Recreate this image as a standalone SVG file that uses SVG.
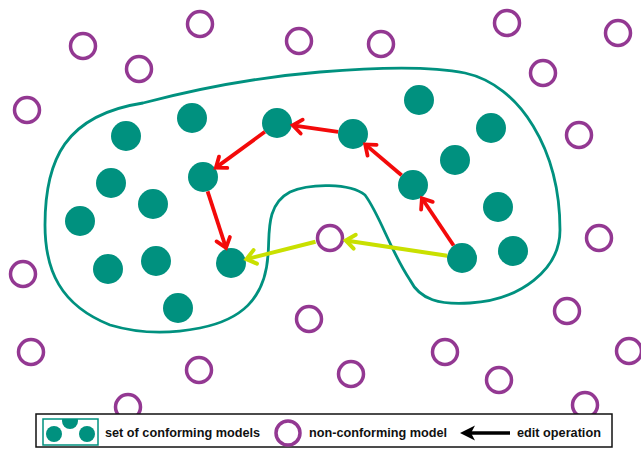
<svg xmlns="http://www.w3.org/2000/svg" width="641" height="452" viewBox="0 0 641 452">
<style>
.c{fill:#00917f}
.n{fill:none;stroke:#933892;stroke-width:3.5}
.red{stroke:#f30a0a;stroke-width:3.8;fill:none;marker-end:url(#ar)}
.grn{stroke:#c9e000;stroke-width:4;fill:none;marker-end:url(#ag)}
.t{font-family:"Liberation Sans",Arial,sans-serif;font-weight:bold;font-size:12.7px;fill:#111}
</style>
<defs>
<marker id="ar" markerUnits="userSpaceOnUse" viewBox="-12 -9 14 18" refX="0" refY="0" markerWidth="14" markerHeight="18" orient="auto" overflow="visible">
<path d="M-9,-7 L0,0 L-9,7" fill="none" stroke="#f30a0a" stroke-width="3.8" stroke-linecap="round" stroke-linejoin="miter"/>
</marker>
<marker id="ag" markerUnits="userSpaceOnUse" viewBox="-12 -9 14 18" refX="0" refY="0" markerWidth="14" markerHeight="18" orient="auto" overflow="visible">
<path d="M-9,-7 L0,0 L-9,7" fill="none" stroke="#c9e000" stroke-width="4" stroke-linecap="round" stroke-linejoin="miter"/>
</marker>
<clipPath id="lc"><rect x="43" y="419" width="55" height="26"/></clipPath>
</defs>
<rect width="641" height="452" fill="#fff"/>
<g id="conforming-set">
<path d="M320,72 C380,67 430,66 465,73 C520,85 560,150 560,230 C560,270 520,300 470,303 C440,305 420,300 410,280 C390,250 380,215 365,195 C350,183 310,183 290,192 C265,205 270,235 268,255 C265,300 240,320 200,328 C170,334 140,334 110,325 C60,305 45,270 45,225 C45,160 65,115 143,103 C200,88 260,77 320,72 Z" fill="none" stroke="#00917f" stroke-width="2.8"/>
</g>
<g id="conforming-models">
<circle id="m1" class="c" cx="126" cy="136" r="15"/>
<circle id="m2" class="c" cx="192" cy="118" r="15"/>
<circle id="m3" class="c" cx="277" cy="123" r="15"/>
<circle id="m4" class="c" cx="353" cy="134" r="15"/>
<circle id="m5" class="c" cx="419" cy="100" r="15"/>
<circle id="m6" class="c" cx="491" cy="128" r="15"/>
<circle id="m7" class="c" cx="455" cy="160" r="15"/>
<circle id="m8" class="c" cx="413" cy="185" r="15"/>
<circle id="m9" class="c" cx="498" cy="207" r="15"/>
<circle id="m10" class="c" cx="462" cy="258" r="15"/>
<circle id="m11" class="c" cx="513" cy="251" r="15"/>
<circle id="m12" class="c" cx="111" cy="183" r="15"/>
<circle id="m13" class="c" cx="153" cy="204" r="15"/>
<circle id="m14" class="c" cx="203" cy="177" r="15"/>
<circle id="m15" class="c" cx="80" cy="221" r="15"/>
<circle id="m16" class="c" cx="108" cy="269" r="15"/>
<circle id="m17" class="c" cx="156" cy="261" r="15"/>
<circle id="m18" class="c" cx="231" cy="263" r="15"/>
<circle id="m19" class="c" cx="178" cy="308" r="15"/>
</g>
<g id="non-conforming-models">
<circle id="x1" class="n" cx="83" cy="46" r="12.5"/>
<circle id="x2" class="n" cx="139" cy="69" r="12.5"/>
<circle id="x3" class="n" cx="200" cy="24" r="12.5"/>
<circle id="x4" class="n" cx="299" cy="41" r="12.5"/>
<circle id="x5" class="n" cx="27" cy="110" r="12.5"/>
<circle id="x6" class="n" cx="381" cy="44" r="12.5"/>
<circle id="x7" class="n" cx="507" cy="23" r="12.5"/>
<circle id="x8" class="n" cx="618" cy="33" r="12.5"/>
<circle id="x9" class="n" cx="543" cy="73" r="12.5"/>
<circle id="x10" class="n" cx="579" cy="135" r="12.5"/>
<circle id="x11" class="n" cx="330" cy="238" r="12.5"/>
<circle id="x12" class="n" cx="599" cy="238" r="12.5"/>
<circle id="x13" class="n" cx="23" cy="274" r="12.5"/>
<circle id="x14" class="n" cx="31" cy="352" r="12.5"/>
<circle id="x15" class="n" cx="199" cy="370" r="12.5"/>
<circle id="x16" class="n" cx="128" cy="407" r="12.5"/>
<circle id="x17" class="n" cx="309" cy="319" r="12.5"/>
<circle id="x18" class="n" cx="567" cy="311" r="12.5"/>
<circle id="x19" class="n" cx="445" cy="352" r="12.5"/>
<circle id="x20" class="n" cx="351" cy="374" r="12.5"/>
<circle id="x21" class="n" cx="499" cy="380" r="12.5"/>
<circle id="x22" class="n" cx="629" cy="351" r="12.5"/>
<circle id="x23" class="n" cx="585" cy="405" r="12.5"/>
</g>
<g id="connectors">
<line class="red" x1="453.6" y1="245.5" x2="421.9" y2="198.3"/>
<line class="red" x1="401.6" y1="175.3" x2="365.2" y2="144.4"/>
<line class="red" x1="338.1" y1="131.9" x2="292.8" y2="125.3"/>
<line class="red" x1="264.9" y1="131.8" x2="215.9" y2="167.6"/>
<line class="red" x1="207.6" y1="191.3" x2="226" y2="247.8"/>
<line class="grn" x1="447.2" y1="255.8" x2="345.8" y2="240.4"/>
<line class="grn" x1="315.5" y1="241.7" x2="246.5" y2="259.1"/>
</g>
<g id="legend">
<rect x="36" y="414" width="576" height="33" fill="#fff" stroke="#111" stroke-width="1.5"/>
<g clip-path="url(#lc)">
<circle class="c" cx="54" cy="434" r="8"/>
<circle class="c" cx="70" cy="421" r="8"/>
<circle class="c" cx="87" cy="434" r="8"/>
</g>
<rect x="43" y="419" width="55" height="26" fill="none" stroke="#00917f" stroke-width="1.5"/>
<text class="t" x="105" y="437">set of conforming models</text>
<circle class="n" cx="288" cy="433" r="12" stroke-width="3"/>
<text class="t" x="309" y="437">non-conforming model</text>
<line x1="510" y1="433" x2="470" y2="433" stroke="#000" stroke-width="3.5"/>
<path d="M460,433 L475,425.5 L471,433 L475,440.5 Z" fill="#000"/>
<text class="t" x="517" y="437">edit operation</text>
</g>
</svg>
